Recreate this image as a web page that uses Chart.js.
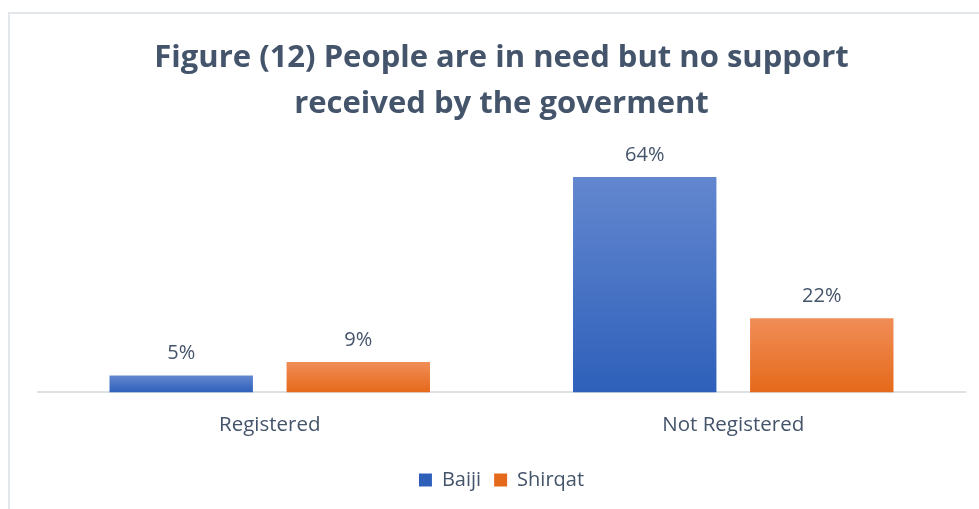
<!DOCTYPE html>
<html>
<head>
<meta charset="utf-8">
<script src="https://cdn.jsdelivr.net/npm/chart.js@4"></script>
<style>
  html, body { margin: 0; padding: 0; background: #fff; overflow: hidden; }
  #wrap { position: relative; width: 979px; height: 509px; }
  #frame { position: absolute; left: 8px; top: 12px; width: 1000px; height: 600px;
           border: 2px solid #e3e7ec; box-sizing: border-box; }
  canvas { position: absolute; left: 0; top: 0; }
</style>
</head>
<body>
<div id="wrap">
  <div id="frame"></div>
  <canvas id="needChart" width="979" height="509"></canvas>
</div>
<script>
const categories = ['Registered', 'Not Registered'];
const baijiValues = [5, 64];
const shirqatValues = [9, 22];
const titleLines = ['Figure (12) People are in need but no support', 'received by the goverment'];

const textColor = '#44546A';
const fontFamily = '"Open Sans", Lato, sans-serif';

// vertical gradient across each bar, lighter at the top
function barGradient(top, bottom) {
    return (context) => {
        const chart = context.chart;
        const yScale = chart.scales.y;
        if (!chart.chartArea || !yScale || context.raw === undefined) return bottom;
        const y0 = yScale.getPixelForValue(context.raw);
        const y1 = yScale.getPixelForValue(0);
        const g = chart.ctx.createLinearGradient(0, y0, 0, y1);
        g.addColorStop(0, top);
        g.addColorStop(1, bottom);
        return g;
    };
}

const valueLabels = {
    id: 'valueLabels',
    afterDatasetsDraw(chart) {
        const ctx = chart.ctx;
        ctx.save();
        ctx.font = '20px ' + fontFamily;
        ctx.fillStyle = textColor;
        ctx.textAlign = 'center';
        ctx.textBaseline = 'middle';
        chart.data.datasets.forEach((ds, i) => {
            chart.getDatasetMeta(i).data.forEach((bar, j) => {
                ctx.fillText(ds.data[j] + '%', bar.x, bar.y - 22);
            });
        });
        ctx.restore();
    }
};

const ctx = document.getElementById('needChart').getContext('2d');
new Chart(ctx, {
    type: 'bar',
    data: {
        labels: categories,
        datasets: [{
            label: 'Baiji',
            data: baijiValues,
            backgroundColor: barGradient('#6387cf', '#2e60ba'),
            categoryPercentage: 0.764,
            barPercentage: 0.81
        }, {
            label: 'Shirqat',
            data: shirqatValues,
            backgroundColor: barGradient('#f08d57', '#e5691a'),
            categoryPercentage: 0.764,
            barPercentage: 0.81
        }]
    },
    options: {
        responsive: false,
        animation: false,
        layout: { padding: { left: 38, right: 14, top: 35, bottom: 9 } },
        scales: {
            x: {
                grid: { display: false, drawTicks: false },
                border: { color: '#dde1e6', width: 2 },
                ticks: { color: textColor, font: { family: fontFamily, size: 20.5 }, padding: 20 }
            },
            y: {
                display: false,
                min: 0,
                max: 70
            }
        },
        plugins: {
            title: {
                display: true,
                text: titleLines,
                color: textColor,
                font: { family: fontFamily, size: 31, weight: 'bold', lineHeight: 1.48 },
                padding: { top: 0, bottom: 30 }
            },
            legend: {
                position: 'bottom',
                labels: {
                    color: textColor,
                    font: { family: fontFamily, size: 20 },
                    boxWidth: 13,
                    boxHeight: 13,
                    padding: 13
                }
            },
            tooltip: { enabled: false }
        }
    },
    plugins: [valueLabels]
});
</script>
</body>
</html>
